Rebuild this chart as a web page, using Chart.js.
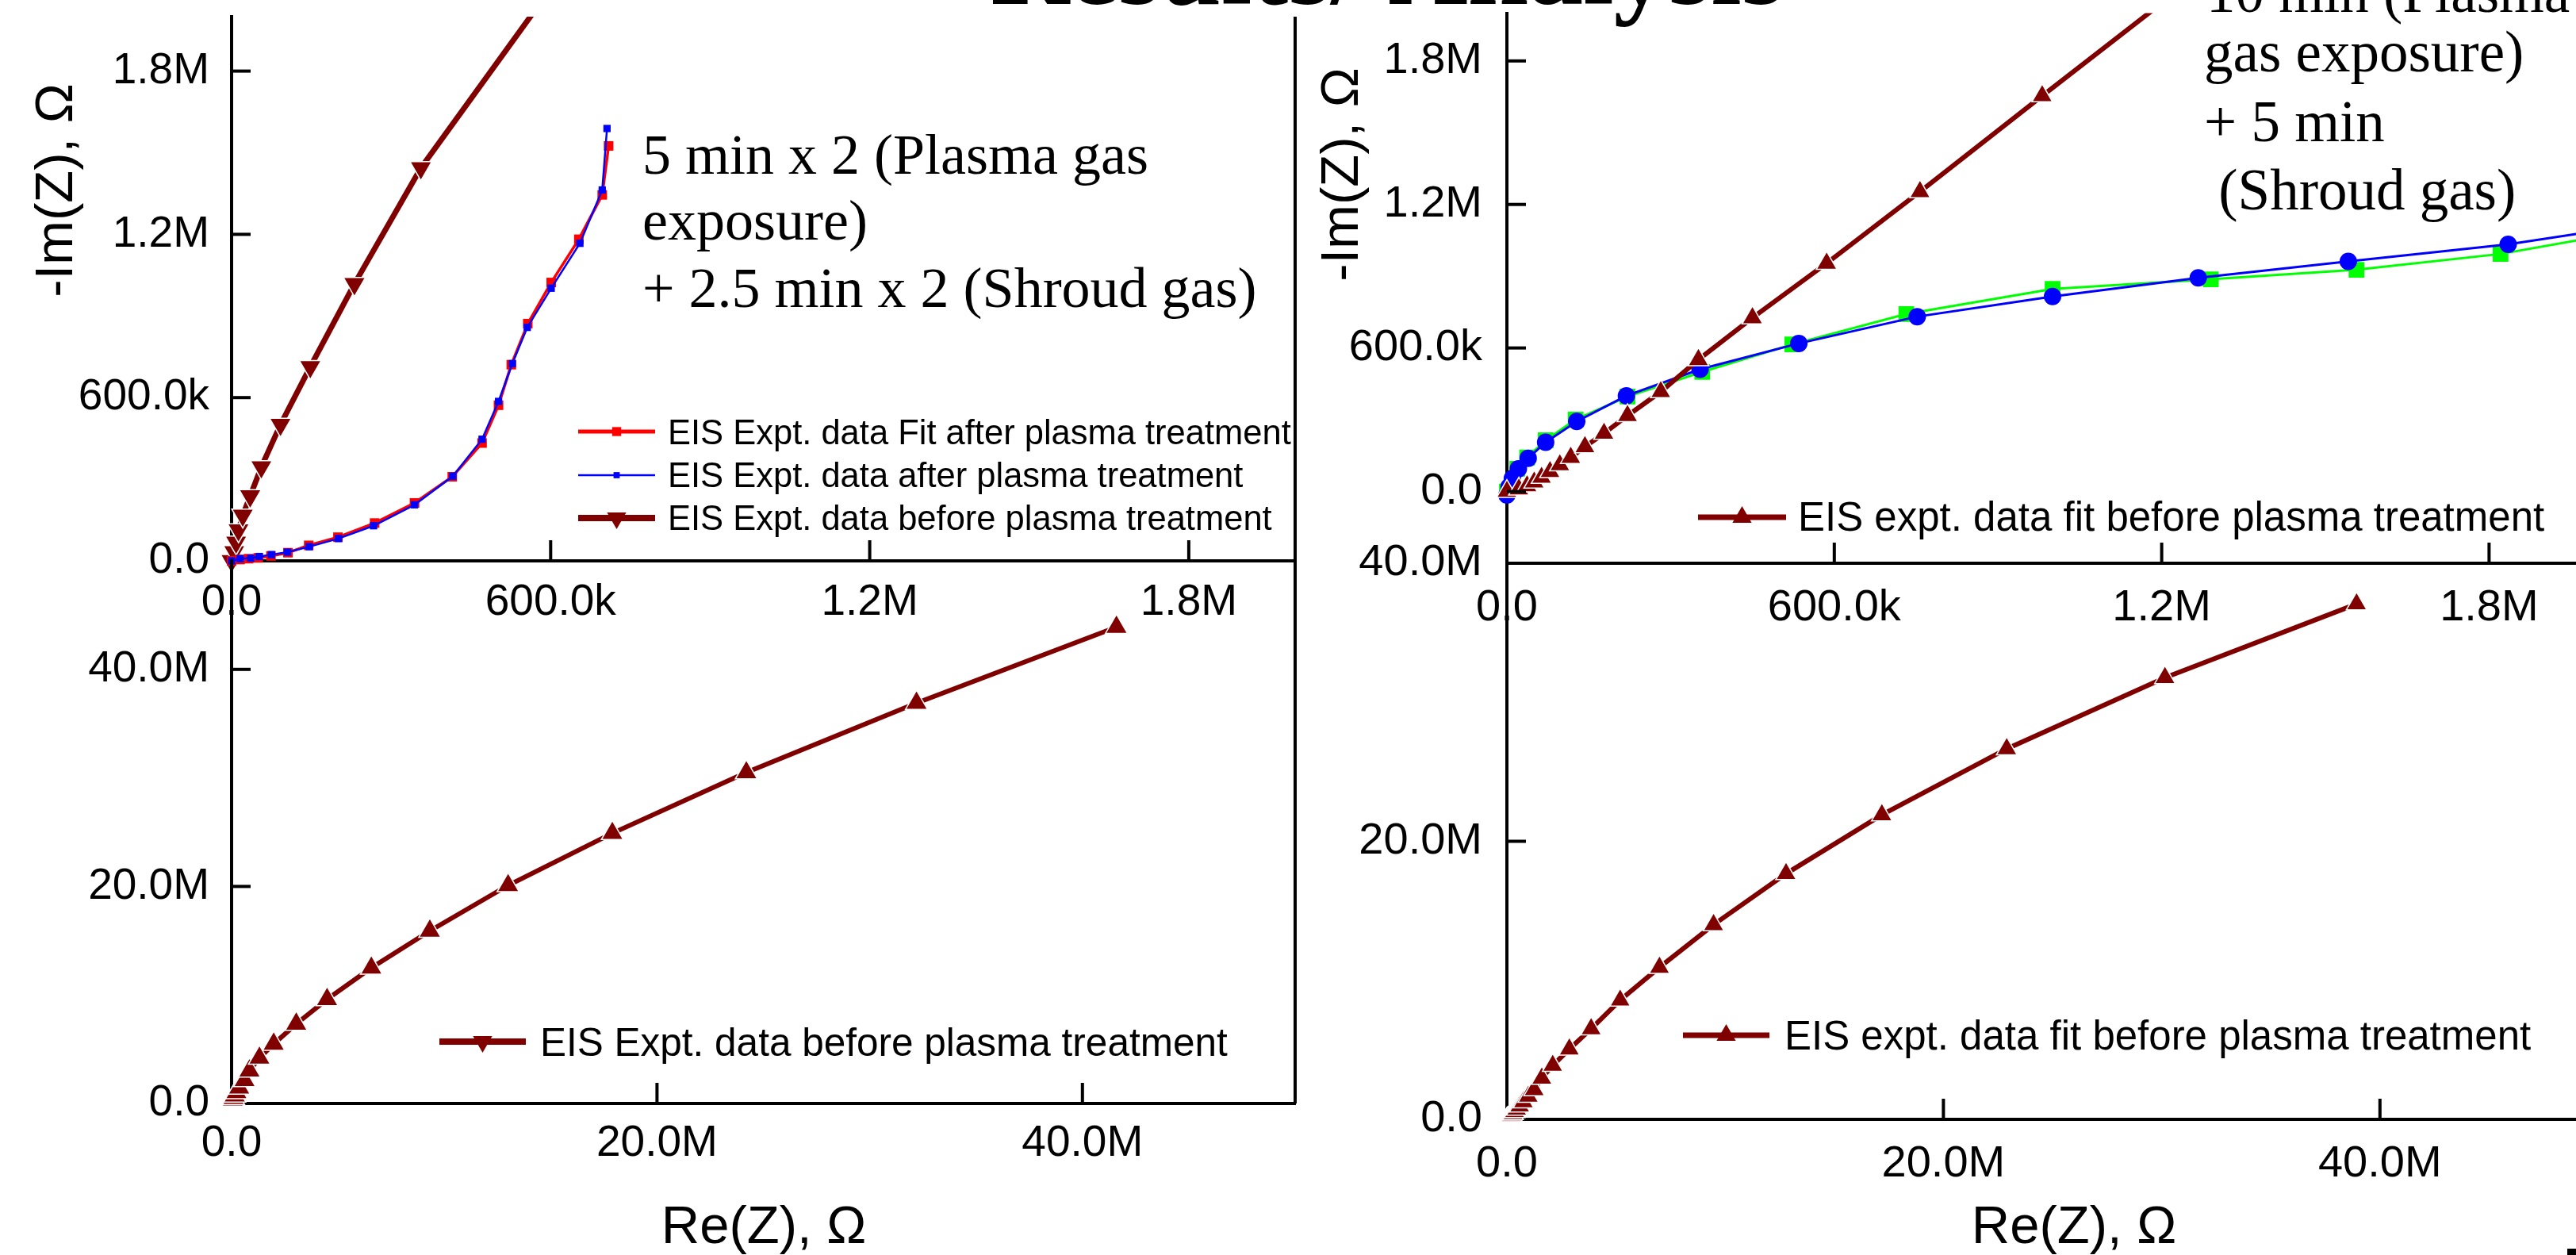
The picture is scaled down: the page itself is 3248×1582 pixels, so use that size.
<!DOCTYPE html>
<html>
<head>
<meta charset="utf-8">
<title>EIS Nyquist plots</title>
<script src="https://cdn.jsdelivr.net/npm/chart.js@4.4.1/dist/chart.umd.min.js"></script>
<style>
  html, body { margin: 0; padding: 0; background: #fff; width: 3248px; height: 1582px; overflow: hidden; }
  canvas { position: absolute; left: 0; top: 0; }
</style>
</head>
<body>
<canvas id="leftInset" width="3300" height="1582"></canvas>
<canvas id="leftMain" width="3300" height="1582"></canvas>
<canvas id="rightInset" width="3300" height="1582"></canvas>
<canvas id="rightMain" width="3300" height="1582"></canvas>
<script>
// Datos (Re(Z) y -Im(Z) en ohm)

// Panel izquierdo: 5 min x 2 plasma + 2.5 min x 2 shroud
const leftBeforeRe = [0, 5e3, 8.5e3, 13e3, 21e3, 35e3, 56e3, 92e3, 148e3, 231e3, 356e3, 610e3,
  0.84e6, 1.31e6, 1.98e6, 3.04e6, 4.49e6, 6.57e6, 9.32e6, 13.0e6, 17.9e6, 24.2e6, 32.2e6, 41.6e6];
const leftBeforeIm = [0, 33e3, 68e3, 113e3, 167e3, 238e3, 345e3, 501e3, 713e3, 1.018e6, 1.444e6, 2.13e6,
  3.02e6, 4.2e6, 5.49e6, 7.33e6, 9.6e6, 12.5e6, 15.9e6, 20.1e6, 24.9e6, 30.5e6, 36.9e6, 43.9e6];
const leftAfterRe = [0, 16e3, 36e3, 52e3, 75e3, 105e3, 146e3, 201e3, 267e3, 344e3, 416e3, 471e3,
  502e3, 528e3, 556e3, 601e3, 655e3, 697e3, 706e3];
const leftAfterIm = [0, 8e3, 10e3, 16e3, 23e3, 32e3, 52e3, 82e3, 129e3, 206e3, 311e3, 447e3,
  586e3, 725e3, 858e3, 1.002e6, 1.167e6, 1.363e6, 1.589e6];
const leftFitRe = [0, 16e3, 32e3, 50e3, 74e3, 106e3, 145e3, 200e3, 269e3, 344e3, 415e3, 471e3,
  502e3, 526e3, 557e3, 601e3, 653e3, 697e3, 709e3];
const leftFitIm = [0, 5e3, 8e3, 11e3, 18e3, 30e3, 57e3, 87e3, 139e3, 213e3, 309e3, 433e3,
  572e3, 721e3, 872e3, 1.023e6, 1.182e6, 1.345e6, 1.525e6];

// Panel derecho: 10 min plasma + 5 min shroud
const rightBeforeRe = [0, 22e3, 37e3, 50e3, 63.5e3, 79e3, 97e3, 117e3, 143e3, 178e3, 221e3, 282e3,
  351e3, 450e3, 586e3, 757e3, 981e3, 1.25e6, 1.60e6, 2.10e6, 2.86e6, 3.86e6, 5.19e6, 6.99e6,
  9.47e6, 12.79e6, 17.18e6, 22.9e6, 30.15e6, 38.93e6];
const rightBeforeIm = [0, 10e3, 23e3, 39e3, 59e3, 83e3, 111e3, 142e3, 187e3, 243e3, 317e3, 417e3,
  551e3, 726e3, 954e3, 1.253e6, 1.654e6, 2.13e6, 2.96e6, 3.88e6, 5.05e6, 6.51e6, 8.57e6, 10.93e6,
  14.0e6, 17.67e6, 21.9e6, 26.65e6, 31.77e6, 37.07e6];
const rightBlueRe = [0, 4e3, 10e3, 21e3, 39e3, 71e3, 128e3, 219e3, 354e3, 535e3, 752e3,
  1.0e6, 1.267e6, 1.542e6, 1.835e6, 2.15e6];
const rightBlueIm = [-15e3, 20e3, 55e3, 95e3, 139e3, 206e3, 293e3, 400e3, 511e3, 619e3, 731e3,
  815e3, 893e3, 962e3, 1.033e6, 1.142e6];
const rightGreenRe = [0, 19e3, 37e3, 71e3, 126e3, 221e3, 358e3, 523e3, 732e3, 1.0e6, 1.29e6,
  1.557e6, 1.821e6, 2.1e6];
const rightGreenIm = [0, 95e3, 142e3, 214e3, 301e3, 397e3, 500e3, 615e3, 742e3, 847e3, 887e3,
  927e3, 993e3, 1.106e6];

// Ticks
const insetTicks = [0, 600000, 1200000, 1800000];
const insetTickLabels = ['0.0', '600.0k', '1.2M', '1.8M'];
const mainTicks = [0, 20000000, 40000000];
const mainTickLabels = ['0.0', '20.0M', '40.0M'];

const W = 3300, H = 1582;
const YW = 280, XH = 120;  // espacio reservado para etiquetas
const DARK = '#800000';
const SERIF = '"Liberation Serif", "Times New Roman", serif';
const SANS = '"Liberation Sans", Arial, sans-serif';
Chart.defaults.font.family = SANS;
Chart.defaults.color = '#000';

function pts(re, im) {
  return re.map((x, i) => ({ x, y: im[i] }));
}

function axis(min, max, ticks, labels, horizontal, pad, size) {
  return {
    type: 'linear', min, max,
    position: horizontal ? 'bottom' : 'left',
    grid: { display: false, drawTicks: false },
    border: { display: true, color: '#000', width: 4 },
    ticks: {
      autoSkip: false, maxRotation: 0, padding: pad, color: '#000',
      font: { size: size || 55 },
      callback: (v, i) => labels[i]
    },
    afterBuildTicks: s => { s.ticks = ticks.map(v => ({ value: v })); },
    afterFit: s => {
      if (horizontal) s.height = XH; else s.width = YW;
      s.paddingTop = s.paddingBottom = s.paddingLeft = s.paddingRight = 0;
    }
  };
}

function series(label, re, im, o) {
  return Object.assign({
    label, data: pts(re, im), tension: 0,
    clip: { left: 20, bottom: 20, top: 0, right: 0 }
  }, o);
}

function drawMarker(ctx, style, x, y, r, down) {
  ctx.beginPath();
  if (style === 'rect') {
    const s = r * Math.SQRT1_2;
    ctx.rect(x - s, y - s, 2 * s, 2 * s);
  } else {
    const d = down ? -1 : 1;
    ctx.moveTo(x, y - d * r);
    ctx.lineTo(x + r * 0.866, y + d * r / 2);
    ctx.lineTo(x - r * 0.866, y + d * r / 2);
    ctx.closePath();
  }
  ctx.fill();
}

// ticks hacia adentro, marco derecho, leyendas y textos
const overlay = {
  id: 'overlay',
  afterDraw(chart, args, opts) {
    const ctx = chart.ctx;
    const a = chart.chartArea;
    ctx.save();
    ctx.strokeStyle = '#000';
    ctx.lineWidth = 4;
    (opts.marks || []).forEach(m => {
      const s = chart.scales[m.axis];
      m.values.forEach(v => {
        const p = s.getPixelForValue(v);
        ctx.beginPath();
        if (s.isHorizontal()) { ctx.moveTo(p, a.bottom); ctx.lineTo(p, a.bottom - m.len); }
        else { ctx.moveTo(a.left, p); ctx.lineTo(a.left + m.len, p); }
        ctx.stroke();
      });
    });
    if (opts.frame) {
      ctx.beginPath();
      ctx.moveTo(a.right, a.top);
      ctx.lineTo(a.right, a.bottom);
      ctx.stroke();
    }
    (opts.legend || []).forEach(r => {
      ctx.strokeStyle = r.color;
      ctx.fillStyle = r.color;
      ctx.lineWidth = r.width;
      ctx.beginPath();
      ctx.moveTo(r.x0, r.y);
      ctx.lineTo(r.x1, r.y);
      ctx.stroke();
      drawMarker(ctx, r.style, (r.x0 + r.x1) / 2, r.y, r.radius, r.down);
      ctx.fillStyle = '#000';
      ctx.font = r.font;
      ctx.textAlign = 'left';
      ctx.textBaseline = 'alphabetic';
      ctx.fillText(r.label, r.tx, r.base);
    });
    (opts.texts || []).forEach(t => {
      ctx.save();
      ctx.font = t.font;
      ctx.fillStyle = '#000';
      ctx.textAlign = t.align || 'left';
      ctx.textBaseline = 'alphabetic';
      ctx.translate(t.x, t.y);
      if (t.rot) ctx.rotate(t.rot);
      ctx.fillText(t.text, 0, 0);
      ctx.restore();
    });
    (opts.blocks || []).forEach(b => {
      ctx.fillStyle = '#000';
      ctx.fillRect(b.x, b.y, b.w, b.h);
    });
    ctx.restore();
  }
};

function makeChart(id, area, scales, datasets, extra) {
  return new Chart(document.getElementById(id), {
    type: 'line',
    data: { datasets },
    options: {
      responsive: false, animation: false, devicePixelRatio: 1,
      layout: { padding: { left: area.l - YW, top: area.t, right: W - area.r, bottom: H - area.b - XH } },
      scales,
      plugins: { legend: { display: false }, tooltip: { enabled: false }, overlay: extra }
    },
    plugins: [overlay]
  });
}

const yTitle = '-Im(Z), \u03A9';
const xTitle = 'Re(Z), \u03A9';

// Inserto izquierdo
makeChart('leftInset', { l: 292, t: 21, r: 1633, b: 707 }, {
  x: axis(0, 2000000, insetTicks, insetTickLabels, true, 20),
  y: axis(0, 2000000, insetTicks, insetTickLabels, false, 28)
}, [
  series('EIS Expt. data after plasma treatment', leftAfterRe, leftAfterIm, {
    borderColor: '#0000ff', backgroundColor: '#0000ff', borderWidth: 2.5,
    pointStyle: 'rect', pointRadius: 6.5, pointBorderWidth: 0
  }),
  series('EIS Expt. data Fit after plasma treatment', leftFitRe, leftFitIm, {
    borderColor: '#ff0000', backgroundColor: '#ff0000', borderWidth: 3.5,
    pointStyle: 'rect', pointRadius: 8.5, pointBorderWidth: 0
  }),
  series('EIS Expt. data before plasma treatment', leftBeforeRe, leftBeforeIm, {
    borderColor: DARK, backgroundColor: DARK, borderWidth: 7,
    pointStyle: 'triangle', pointRotation: 180, pointRadius: 16,
    pointBorderColor: '#fff', pointBorderWidth: 1.5
  })
], {
  marks: [{ axis: 'x', values: insetTicks.slice(1), len: 26 },
          { axis: 'y', values: insetTicks.slice(1), len: 24 }],
  frame: true,
  legend: [
    { y: 544, x0: 729, x1: 826, color: '#ff0000', width: 5, style: 'rect', radius: 8,
      tx: 842, base: 560, font: '43.5px ' + SANS, label: 'EIS Expt. data Fit after plasma treatment' },
    { y: 599, x0: 729, x1: 826, color: '#0000ff', width: 2.5, style: 'rect', radius: 5.5,
      tx: 842, base: 614, font: '43.5px ' + SANS, label: 'EIS Expt. data after plasma treatment' },
    { y: 653, x0: 729, x1: 826, color: DARK, width: 8, style: 'triangle', down: true, radius: 14,
      tx: 842, base: 668, font: '43.5px ' + SANS, label: 'EIS Expt. data before plasma treatment' }
  ],
  texts: [
    { text: '5 min x 2 (Plasma gas', x: 810, y: 219, font: '72px ' + SERIF },
    { text: 'exposure)', x: 810, y: 302, font: '72px ' + SERIF },
    { text: '+ 2.5 min x 2 (Shroud gas)', x: 810, y: 387, font: '72px ' + SERIF },
    { text: yTitle, x: 91, y: 240, rot: -Math.PI / 2, align: 'center', font: '67px ' + SANS }
  ]
});

// Principal izquierdo
makeChart('leftMain', { l: 292, t: 707, r: 1633, b: 1391 }, {
  x: axis(0, 50000000, mainTicks, mainTickLabels, true, 18),
  y: axis(0, 50000000, mainTicks, mainTickLabels, false, 28)
}, [
  series('EIS Expt. data before plasma treatment', leftBeforeRe, leftBeforeIm, {
    borderColor: DARK, backgroundColor: DARK, borderWidth: 6,
    pointStyle: 'triangle', pointRadius: 16,
    pointBorderColor: '#fff', pointBorderWidth: 1.5
  })
], {
  marks: [{ axis: 'x', values: mainTicks.slice(1), len: 26 },
          { axis: 'y', values: mainTicks.slice(1), len: 24 }],
  frame: true,
  legend: [
    { y: 1313, x0: 554, x1: 663, color: DARK, width: 8, style: 'triangle', down: true, radius: 14,
      tx: 681, base: 1331, font: '49.5px ' + SANS, label: 'EIS Expt. data before plasma treatment' }
  ],
  texts: [
    { text: xTitle, x: 963, y: 1567, align: 'center', font: '67px ' + SANS }
  ]
});

// Inserto derecho
makeChart('rightInset', { l: 1900, t: 8, r: 3276, b: 710 }, {
  x: axis(0, 2000000, insetTicks, insetTickLabels, true, 23, 56),
  y: axis(-300000, 2000000, insetTicks, insetTickLabels, false, 31, 56)
}, [
  series('EIS expt. data fit before plasma treatment', rightBeforeRe, rightBeforeIm, {
    borderColor: DARK, backgroundColor: DARK, borderWidth: 6,
    pointStyle: 'triangle', pointRadius: 15,
    pointBorderColor: '#fff', pointBorderWidth: 1.5
  }),
  series('Fit after plasma treatment', rightBlueRe, rightBlueIm, {
    borderColor: '#0000ff', backgroundColor: '#0000ff', borderWidth: 3,
    pointStyle: 'circle', pointRadius: 11, pointBorderWidth: 0
  }),
  series('Expt. data after plasma treatment', rightGreenRe, rightGreenIm, {
    borderColor: '#00ff00', backgroundColor: '#00ff00', borderWidth: 3,
    pointStyle: 'rect', pointRadius: 14, pointBorderWidth: 0
  })
], {
  marks: [{ axis: 'x', values: insetTicks.slice(1), len: 26 },
          { axis: 'y', values: insetTicks, len: 24 }],
  legend: [
    { y: 652, x0: 2141, x1: 2252, color: DARK, width: 7, style: 'triangle', radius: 14,
      tx: 2267, base: 669, font: '51px ' + SANS, label: 'EIS expt. data fit before plasma treatment' }
  ],
  texts: [
    { text: '10 min (Plasma', x: 2782, y: 15, font: '73px ' + SERIF },
    { text: 'gas exposure)', x: 2779, y: 90, font: '73px ' + SERIF },
    { text: '+ 5 min', x: 2779, y: 178, font: '73px ' + SERIF },
    { text: ' (Shroud gas)', x: 2779, y: 264, font: '73px ' + SERIF }
  ]
});

// Principal derecho
makeChart('rightMain', { l: 1900, t: 710, r: 3276, b: 1411 }, {
  x: axis(0, 50000000, mainTicks, mainTickLabels, true, 23, 56),
  y: axis(0, 40000000, mainTicks, mainTickLabels, false, 31, 56)
}, [
  series('EIS expt. data fit before plasma treatment', rightBeforeRe, rightBeforeIm, {
    borderColor: DARK, backgroundColor: DARK, borderWidth: 6,
    pointStyle: 'triangle', pointRadius: 15,
    pointBorderColor: '#fff', pointBorderWidth: 1.5
  })
], {
  marks: [{ axis: 'x', values: mainTicks.slice(1), len: 26 },
          { axis: 'y', values: [20000000], len: 24 }],
  legend: [
    { y: 1305, x0: 2122, x1: 2231, color: DARK, width: 7, style: 'triangle', radius: 14,
      tx: 2250, base: 1323, font: '51px ' + SANS, label: 'EIS expt. data fit before plasma treatment' }
  ],
  texts: [
    { text: xTitle, x: 2615, y: 1567, align: 'center', font: '67px ' + SANS },
    { text: yTitle, x: 1712, y: 220, rot: -Math.PI / 2, align: 'center', font: '67px ' + SANS },
    { text: 'Results/ Analysis', x: 1749, y: 5, align: 'center', font: 'bold 138px ' + SERIF }
  ],
  blocks: [{ x: 3237, y: 1574, w: 11, h: 8 }]
});
</script>
</body>
</html>
